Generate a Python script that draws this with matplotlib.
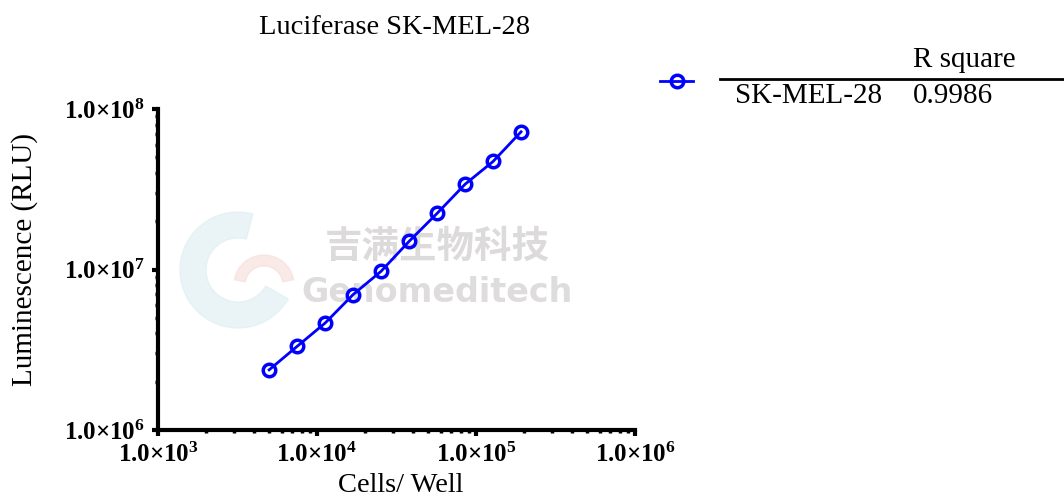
import matplotlib
matplotlib.use("Agg")
import matplotlib.pyplot as plt
import matplotlib.ticker as mticker
from matplotlib.lines import Line2D
from matplotlib.patches import Wedge
import numpy as np

plt.rcParams['font.family'] = ['Liberation Serif', 'DejaVu Serif']
plt.rcParams['mathtext.fontset'] = 'custom'
plt.rcParams['mathtext.rm'] = 'Liberation Serif'
plt.rcParams['mathtext.bf'] = 'Liberation Serif:bold'
plt.rcParams['mathtext.it'] = 'Liberation Serif:italic'

# data
cells = [5000, 7500, 11250, 16875, 25300, 38000, 57000, 85400, 128000, 192000]
rlu = [2.37e6, 3.32e6, 4.64e6, 6.98e6, 9.75e6, 1.50e7, 2.24e7, 3.40e7, 4.71e7, 7.21e7]
series_name = "SK-MEL-28"
r_square = "0.9986"
x_ticks = [1e3, 1e4, 1e5, 1e6]
y_ticks = [1e6, 1e7, 1e8]

blue = '#0000ff'
W, H = 1064, 497

def fx(px):
    return px / W

def fy(py):
    return 1 - py / H

fig = plt.figure(figsize=(W / 100, H / 100), dpi=100)
ax = fig.add_axes([fx(158), fy(430), fx(635) - fx(158), fy(109) - fy(430)])
ax.set_facecolor('none')
ax.set_zorder(1)

# watermark (logo + company name) behind the data
fig.add_artist(Wedge((2.38, 2.27), 0.58, 75, 330, width=0.26,
                     transform=fig.dpi_scale_trans, color='#dcedf2', alpha=0.6, zorder=-2))
fig.add_artist(Wedge((2.64, 2.12), 0.30, 10, 170, width=0.11,
                     transform=fig.dpi_scale_trans, color='#f6dcda', alpha=0.6, zorder=-2))
fig.text(fx(437), fy(246), "吉满生物科技", fontsize=27, fontweight='bold',
         color='#dcdada', family=['Noto Sans CJK SC', 'DejaVu Sans'],
         ha='center', va='center', zorder=-1)
fig.text(fx(437), fy(293), "Genomeditech", fontsize=24, fontweight='bold',
         color='#dedcdc', family=['DejaVu Sans'], ha='center', va='center', zorder=-1)

ax.plot(cells, rlu, color=blue, lw=2, marker='o', ms=9, mfc='none',
        mec=blue, mew=2.5, zorder=3)

ax.set_xscale('log')
ax.set_yscale('log')
ax.set_xlim(1e3, 1e6)
ax.set_ylim(1e6, 1e8)

def fmt(v, pos):
    e = int(round(np.log10(v)))
    return r'$\mathbf{1.0{\times}10^{%d}}$' % e

ax.xaxis.set_major_locator(mticker.FixedLocator(x_ticks))
ax.yaxis.set_major_locator(mticker.FixedLocator(y_ticks))
ax.xaxis.set_major_formatter(mticker.FuncFormatter(fmt))
ax.yaxis.set_major_formatter(mticker.FuncFormatter(fmt))
ax.xaxis.set_minor_locator(mticker.LogLocator(base=10, subs=np.arange(2, 10)))
ax.yaxis.set_minor_locator(mticker.LogLocator(base=10, subs=np.arange(2, 10)))
ax.xaxis.set_minor_formatter(mticker.NullFormatter())
ax.yaxis.set_minor_formatter(mticker.NullFormatter())

for s in ['top', 'right']:
    ax.spines[s].set_visible(False)
for s in ['left', 'bottom']:
    ax.spines[s].set_linewidth(3)
    ax.spines[s].set_capstyle('projecting')
ax.tick_params(which='major', direction='out', length=4.5, width=3, labelsize=18, pad=5)
ax.tick_params(which='minor', direction='out', length=2.5, width=2.5)

fig.text(fx(401), fy(492), "Cells/ Well", fontsize=20.5, ha='center', va='baseline')
fig.text(fx(25), fy(259), "Luminescence (RLU)", fontsize=21, rotation=90,
         ha='center', va='center')
fig.text(fx(395), fy(34), "Luciferase SK-MEL-28", fontsize=20.5, ha='center', va='baseline')

# legend and R square table
fig.add_artist(Line2D([fx(660), fx(693)], [fy(81), fy(81)], color=blue, lw=2,
                      transform=fig.transFigure))
fig.add_artist(Line2D([fx(676.5)], [fy(81)], color=blue, marker='o', ms=9,
                      mfc='none', mec=blue, mew=2.5, transform=fig.transFigure))
fig.add_artist(Line2D([fx(720), 1.0], [fy(79), fy(79)], color='black', lw=2,
                      transform=fig.transFigure))
fig.text(fx(913), fy(67), "R square", fontsize=21, ha='left', va='baseline')
fig.text(fx(735), fy(103), series_name, fontsize=21, ha='left', va='baseline')
fig.text(fx(913), fy(103), r_square, fontsize=21, ha='left', va='baseline')

fig.savefig("out.png", dpi=100)
